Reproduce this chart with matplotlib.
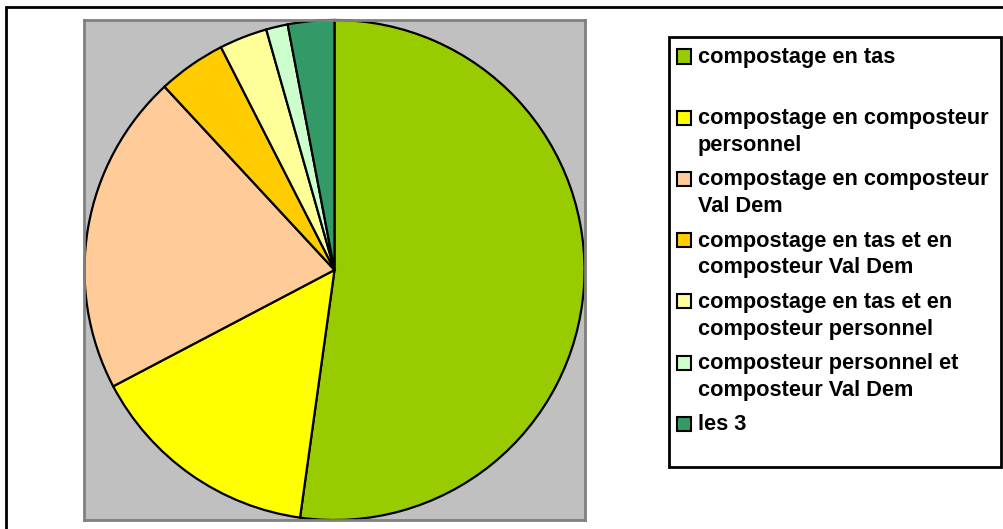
import matplotlib.pyplot as plt
from matplotlib.patches import Rectangle

labels = ["compostage en tas",
          "compostage en composteur\npersonnel",
          "compostage en composteur\nVal Dem",
          "compostage en tas et en\ncomposteur Val Dem",
          "compostage en tas et en\ncomposteur personnel",
          "composteur personnel et\ncomposteur Val Dem",
          "les 3"]
values = [52.2, 15.1, 20.8, 4.4, 3.1, 1.4, 3.0]
colors = ["#99CC00", "#FFFF00", "#FFCC99", "#FFCC00", "#FFFF99", "#CCFFCC", "#339966"]

W, H = 1004, 529
fig = plt.figure(figsize=(W / 100, H / 100), dpi=100)
plt.rcParams['font.family'] = ['Liberation Sans', 'DejaVu Sans']

# outer chart border (right/bottom cut off in the original)
fig.patches.append(Rectangle((6 / W, -0.02), 1.1, 1 - 7 / H + 0.02, transform=fig.transFigure,
                             fill=False, edgecolor='black', linewidth=2))

# plot area (gray)
ax = fig.add_axes([84 / W, 1 - 520 / H, 501 / W, 500 / H])
ax.pie(values, colors=colors, startangle=90, counterclock=False,
       wedgeprops=dict(edgecolor='black', linewidth=1.6))
ax.set_frame_on(True)
ax.set_facecolor('#C0C0C0')
ax.set_xlim(-1.002, 1.002)
ax.set_ylim(-1.0, 1.0)
ax.set_xticks([])
ax.set_yticks([])
for s in ax.spines.values():
    s.set_edgecolor('#808080')
    s.set_linewidth(2)

# legend box
fig.patches.append(Rectangle((669 / W, 1 - 467 / H), 332 / W, 430 / H, transform=fig.transFigure,
                             facecolor='white', edgecolor='black', linewidth=2))
for i, (lab, c) in enumerate(zip(labels, colors)):
    y0 = 57.5 + 61.2 * i
    fig.patches.append(Rectangle((677 / W, 1 - (y0 + 6) / H), 14 / W, 14 / H, transform=fig.transFigure,
                                 facecolor=c, edgecolor='black', linewidth=1.5))
    for j, line in enumerate(lab.split('\n')):
        fig.text(698 / W, 1 - (y0 + 26.8 * j) / H, line, fontsize=15.7, fontweight='bold',
                 va='center', ha='left')

fig.savefig('out.png', dpi=100)
